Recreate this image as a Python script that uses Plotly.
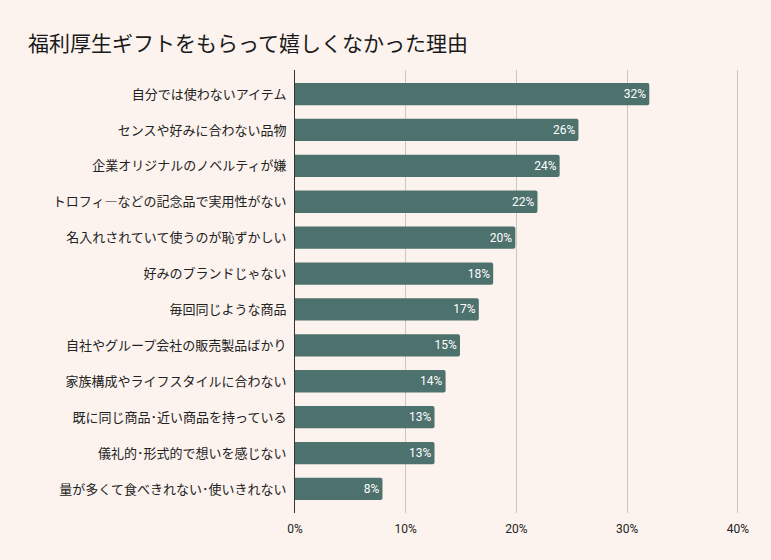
import plotly.graph_objects as go

categories = [
    "自分では使わないアイテム",
    "センスや好みに合わない品物",
    "企業オリジナルのノベルティが嫌",
    "トロフィ―などの記念品で実用性がない",
    "名入れされていて使うのが恥ずかしい",
    "好みのブランドじゃない",
    "毎回同じような商品",
    "自社やグループ会社の販売製品ばかり",
    "家族構成やライフスタイルに合わない",
    "既に同じ商品･近い商品を持っている",
    "儀礼的･形式的で想いを感じない",
    "量が多くて食べきれない･使いきれない",
]
values = [32.0, 25.6, 23.9, 21.9, 19.9, 17.9, 16.6, 14.9, 13.6, 12.6, 12.6, 7.9]
tick_vals = [0, 10, 20, 30, 40]
tick_text = ["0%", "10%", "20%", "30%", "40%"]

BG = "#fcf3ee"
BAR = "#4d716c"

fig = go.Figure(go.Bar(
    x=values,
    y=categories,
    orientation="h",
    marker=dict(color=BAR, line=dict(width=0)),
    width=0.62,
    texttemplate="%{x:.0f}%",
    textposition="inside",
    insidetextanchor="end",
    textangle=0,
    textfont=dict(color="#ffffff", size=12, family="Roboto"),
    cliponaxis=False,
    hoverinfo="skip",
))

fig.update_layout(
    width=771, height=560,
    paper_bgcolor=BG, plot_bgcolor=BG,
    margin=dict(l=295, r=32, t=70, b=47),
    barcornerradius=2,
    showlegend=False,
    title=dict(
        text="福利厚生ギフトをもらって嬉しくなかった理由",
        x=28 / 771, xref="container", xanchor="left",
        y=1 - 44 / 560, yref="container", yanchor="middle",
        font=dict(size=21, color="#1a1a1a", family="Noto Sans CJK JP"),
    ),
    font=dict(family="Noto Sans CJK JP", color="#222222"),
)

fig.update_xaxes(
    range=[0, 40.1],
    tickvals=tick_vals, ticktext=tick_text,
    showgrid=True, gridcolor="#cdc5c0", gridwidth=1,
    zeroline=False,
    showline=False,
    ticks="",
    ticklabelstandoff=7,
    tickfont=dict(size=12, family="Roboto", color="#222222"),
    fixedrange=True,
)
fig.update_yaxes(
    autorange=False,
    range=[11.67, -0.67],
    categoryorder="array", categoryarray=categories,
    showline=True, linecolor="#333333", linewidth=1,
    showgrid=False,
    ticks="", ticklabelstandoff=5,
    tickfont=dict(size=13, family="Noto Sans CJK JP", color="#222222"),
    fixedrange=True,
)

fig.write_html("out.html", config={"displayModeBar": False},
               post_script="document.body.style.margin='0';")
